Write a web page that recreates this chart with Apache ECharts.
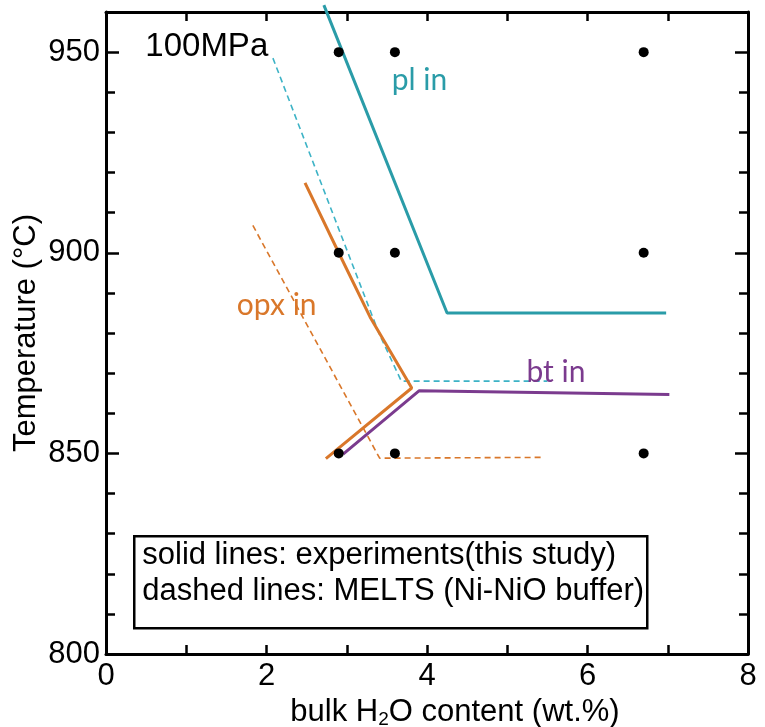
<!DOCTYPE html>
<html>
<head>
<meta charset="utf-8">
<script src="https://cdn.jsdelivr.net/npm/echarts@6/dist/echarts.min.js"></script>
<style>
  html, body { margin: 0; padding: 0; background: #fff; }
  #chart { width: 765px; height: 727px; }
</style>
</head>
<body>
<div id="chart"></div>
<script>
// Phase boundaries at 100 MPa: bulk H2O (wt.%) vs temperature (°C)
const runPoints = [
  [2.9, 950], [3.6, 950], [6.7, 950],
  [2.9, 900], [3.6, 900], [6.7, 900],
  [2.9, 850], [3.6, 850], [6.7, 850]
];

// experimental boundaries (solid)
const plIn = [[2.715, 961.7], [4.25, 885], [6.98, 885]];
const opxIn = [[2.48, 917.4], [2.90, 900], [3.29, 884], [3.81, 866.3], [2.74, 848.7]];
const btIn = [[2.955, 849.8], [3.90, 865.6], [7.02, 864.7]];

// MELTS boundaries (dashed)
const plInMelts = [[2.08, 948.5], [3.40, 880], [3.68, 868], [5.50, 868]];
const opxInMelts = [[1.83, 906.8], [3.41, 848.8], [5.43, 849]];

// curve labels placed at data coordinates
const curveLabels = [
  { name: '100MPa', pos: [0.49, 951.3], color: '#000000', font: 'Liberation Sans', size: 33 },
  { name: 'pl in', pos: [3.56, 943], color: '#2a9ca8', font: 'Lato', size: 30 },
  { name: 'opx in', pos: [1.63, 887], color: '#d9772a', font: 'Lato', size: 30 },
  { name: 'bt in', pos: [5.24, 870.3], color: '#7b3b8e', font: 'Lato', size: 30 }
];

const xTickLabels = ['0', '2', '4', '6', '8'];
const yTickLabels = ['800', '850', '900', '950'];

const TEAL = '#2a9ca8';
const TEAL_DASH = '#3db3c6';
const ORANGE = '#d9772a';
const PURPLE = '#7b3b8e';
const FONT = 'Liberation Sans, Arial, sans-serif';

const chart = echarts.init(document.getElementById('chart'), null, { renderer: 'canvas' });

const axisLine = { show: true, lineStyle: { color: '#000', width: 3 } };
const tick = (len) => ({ show: true, inside: true, length: len, lineStyle: { color: '#000', width: 2.5 } });

const option = {
  backgroundColor: '#ffffff',
  animation: false,
  grid: { left: 106, right: 17, top: 12, bottom: 73, containLabel: false, outerBoundsMode: 'none' },
  xAxis: [
    {
      type: 'value', min: 0, max: 8, interval: 1, position: 'bottom',
      axisLine, axisTick: tick(9), splitLine: { show: false },
      axisLabel: {
        margin: 7, color: '#000', fontFamily: FONT, fontSize: 31,
        formatter: (v) => xTickLabels.includes(String(v)) ? String(v) : ''
      },
      name: 'bulk H{sub|2}O content (wt.%)',
      nameLocation: 'middle', nameGap: 32,
      nameTextStyle: {
        color: '#000', fontFamily: FONT, fontSize: 31, padding: [0, 0, 0, 56],
        rich: { sub: { fontFamily: FONT, fontSize: 19, verticalAlign: 'bottom', padding: [14, 0, 0, 0] } }
      }
    },
    {
      type: 'value', min: 0, max: 8, interval: 1, position: 'top',
      axisLine, axisTick: tick(9), axisLabel: { show: false }, splitLine: { show: false }
    }
  ],
  yAxis: [
    {
      type: 'value', min: 800, max: 960, interval: 10, position: 'left',
      axisLine, axisTick: tick(9), splitLine: { show: false },
      axisLabel: {
        margin: 6, color: '#000', fontFamily: FONT, fontSize: 31,
        formatter: (v) => yTickLabels.includes(String(v)) ? String(v) : ''
      },
      name: 'Temperature (°C)',
      nameLocation: 'middle', nameGap: 64, nameMoveOverlap: false,
      nameTextStyle: { color: '#000', fontFamily: FONT, fontSize: 31 }
    },
    {
      type: 'value', min: 800, max: 960, interval: 50, position: 'left',
      axisLine: { show: false }, axisTick: tick(13), axisLabel: { show: false }, splitLine: { show: false }
    },
    {
      type: 'value', min: 800, max: 960, interval: 10, position: 'right',
      axisLine, axisTick: tick(9), axisLabel: { show: false }, splitLine: { show: false }
    },
    {
      type: 'value', min: 800, max: 960, interval: 50, position: 'right',
      axisLine: { show: false }, axisTick: tick(13), axisLabel: { show: false }, splitLine: { show: false }
    }
  ],
  series: [
    {
      name: 'pl in (MELTS)', type: 'line', data: plInMelts, symbol: 'none', clip: false,
      lineStyle: { color: TEAL_DASH, width: 1.6, type: [6, 4] }, z: 2
    },
    {
      name: 'opx in (MELTS)', type: 'line', data: opxInMelts, symbol: 'none', clip: false,
      lineStyle: { color: ORANGE, width: 1.6, type: [6, 4] }, z: 2
    },
    {
      name: 'pl in', type: 'line', data: plIn, symbol: 'none', clip: false,
      lineStyle: { color: TEAL, width: 3 }, z: 3
    },
    {
      name: 'opx in', type: 'line', data: opxIn, symbol: 'none', clip: false,
      lineStyle: { color: ORANGE, width: 3 }, z: 3
    },
    {
      name: 'bt in', type: 'line', data: btIn, symbol: 'none', clip: false,
      lineStyle: { color: PURPLE, width: 3 }, z: 3
    },
    {
      name: 'runs', type: 'scatter', data: runPoints, symbol: 'circle', symbolSize: 10,
      itemStyle: { color: '#000', opacity: 1 }, z: 4
    },
    {
      name: 'labels', type: 'scatter', symbolSize: 0, z: 5, silent: true,
      itemStyle: { opacity: 1 },
      data: curveLabels.map((d) => ({
        value: d.pos,
        label: {
          show: true, position: 'right', distance: 0, formatter: d.name,
          color: d.color, fontFamily: d.font, fontSize: d.size, opacity: 1
        }
      }))
    }
  ],
  graphic: [
    {
      type: 'group', left: 133, top: 535,
      children: [
        {
          type: 'rect', shape: { x: 0, y: 0, width: 513, height: 92 },
          style: { fill: '#fff', stroke: '#000', lineWidth: 2.5 }
        },
        {
          type: 'text', x: 8, y: 19,
          style: { text: 'solid lines: experiments(this study)', fill: '#000', font: '31px ' + FONT, textVerticalAlign: 'middle' }
        },
        {
          type: 'text', x: 8, y: 55,
          style: { text: 'dashed lines: MELTS (Ni-NiO buffer)', fill: '#000', font: '31px ' + FONT, textVerticalAlign: 'middle' }
        }
      ]
    }
  ]
};

chart.setOption(option);
</script>
</body>
</html>
